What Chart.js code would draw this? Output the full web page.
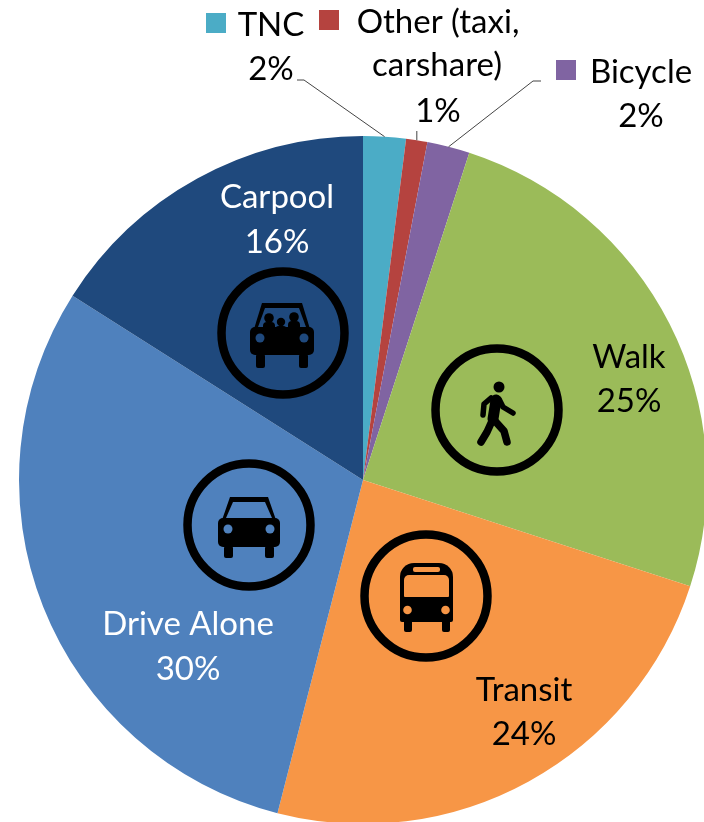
<!DOCTYPE html>
<html>
<head>
<meta charset="utf-8">
<title>Mode share</title>
<script src="https://cdn.jsdelivr.net/npm/chart.js@4"></script>
<style>
  html, body { margin:0; padding:0; background:#fff; }
  #wrap { width:704px; height:822px; overflow:hidden; position:relative; }
  canvas { display:block; }
</style>
</head>
<body>
<div id="wrap"><canvas id="modeChart" width="730" height="844"></canvas></div>
<script>
const categories = ['TNC', 'Other (taxi, carshare)', 'Bicycle', 'Walk', 'Transit', 'Drive Alone', 'Carpool'];
const shares     = [2, 1, 2, 25, 24, 30, 16];
const colors     = ['#4BACC6', '#B5433F', '#8064A2', '#9BBB59', '#F79646', '#4F81BD', '#1F497D'];

const FONT = '33px Lato, "Open Sans", sans-serif';

// name lines, percent line, centre x, first baseline, line height
const labels = [
  { i:3, name:['Walk'],        x:629, y:368, lh:44 },
  { i:4, name:['Transit'],     x:524, y:701, lh:44 },
  { i:5, name:['Drive Alone'], x:188, y:635, lh:45 },
  { i:6, name:['Carpool'],     x:277, y:208, lh:45 },
];

function drawLabels(ctx) {
  ctx.fillStyle = '#000';
  ctx.font = FONT;
  ctx.textBaseline = 'alphabetic';
  ctx.textAlign = 'center';
  labels.forEach(l => {
    const white = l.i === 5 || l.i === 6;
    ctx.fillStyle = white ? '#fff' : '#000';
    ctx.fillText(l.name[0], l.x, l.y);
    ctx.fillText(shares[l.i] + '%', l.x, l.y + l.lh);
  });

  // outside labels with their legend keys
  ctx.fillStyle = '#000';
  ctx.fillText('TNC', 271, 36);
  ctx.fillText(shares[0] + '%', 271, 80);
  ctx.fillText('Other (taxi,', 438, 33);
  ctx.fillText('carshare)', 437, 76);
  ctx.fillText(shares[1] + '%', 438, 122);
  ctx.fillText('Bicycle', 641, 83);
  ctx.fillText(shares[2] + '%', 641, 127);

  ctx.fillStyle = colors[0]; ctx.fillRect(206, 13, 20, 20);
  ctx.fillStyle = colors[1]; ctx.fillRect(319, 10, 20, 20);
  ctx.fillStyle = colors[2]; ctx.fillRect(556, 60, 20, 20);
}

function drawLeaders(ctx, arcs) {
  const edge = i => {
    const a = arcs[i];
    const mid = (a.startAngle + a.endAngle) / 2;
    return [a.x + Math.cos(mid) * a.outerRadius, a.y + Math.sin(mid) * a.outerRadius];
  };
  ctx.strokeStyle = '#444';
  ctx.lineWidth = 1;
  const line = pts => {
    ctx.beginPath();
    pts.forEach((p, n) => n ? ctx.lineTo(p[0], p[1]) : ctx.moveTo(p[0], p[1]));
    ctx.stroke();
  };
  line([edge(0), [304, 80], [297, 80]]);
  line([edge(1), [edge(1)[0], 131]]);
  line([edge(2), [533, 81], [541, 81]]);
}

function ring(ctx, x, y) {
  ctx.strokeStyle = '#000';
  ctx.lineWidth = 8.5;
  ctx.beginPath();
  ctx.arc(x, y, 61.5, 0, Math.PI * 2);
  ctx.stroke();
}

function box(ctx, x, y, w, h, r) {
  ctx.beginPath();
  ctx.roundRect(x, y, w, h, r);
  ctx.fill();
}

function dot(ctx, x, y, r) {
  ctx.beginPath();
  ctx.arc(x, y, r, 0, Math.PI * 2);
  ctx.fill();
}

// car front, x/y is the ring centre
function car(ctx, x, y, bg, roofTop, roofW, baseW, bodyTop, bodyBot, wheelBot) {
  ctx.fillStyle = '#000';
  ctx.beginPath();
  ctx.moveTo(x - roofW, y + roofTop);
  ctx.lineTo(x + roofW, y + roofTop);
  ctx.lineTo(x + roofW + 8, y + bodyTop + 2);
  ctx.lineTo(x - roofW - 8, y + bodyTop + 2);
  ctx.closePath();
  ctx.fill();
  box(ctx, x - baseW, y + bodyTop, baseW * 2, bodyBot - bodyTop, 5);
  box(ctx, x - baseW + 6, y + bodyBot - 1, 9, wheelBot - bodyBot + 1, 2);
  box(ctx, x + baseW - 15, y + bodyBot - 1, 9, wheelBot - bodyBot + 1, 2);
  ctx.fillStyle = bg;
  ctx.beginPath();
  ctx.moveTo(x - roofW + 3, y + roofTop + 5);
  ctx.lineTo(x + roofW - 3, y + roofTop + 5);
  ctx.lineTo(x + roofW + 4, y + bodyTop);
  ctx.lineTo(x - roofW - 4, y + bodyTop);
  ctx.closePath();
  ctx.fill();
  dot(ctx, x - baseW + 10, y + bodyTop + 11, 4.5);
  dot(ctx, x + baseW - 10, y + bodyTop + 11, 4.5);
}

function drawIcons(ctx) {
  // carpool
  ring(ctx, 283, 333);
  car(ctx, 282, 333, colors[6], -30, 20, 32, -6, 22, 35);
  ctx.fillStyle = '#000';
  [[269, 318, 4.8], [281, 322, 4.2], [294, 317, 4.8]].forEach(h => {
    dot(ctx, h[0], h[1], h[2]);
    box(ctx, h[0] - 6, h[1] + 4, 12, 10, 4);
  });

  // drive alone
  ring(ctx, 249, 525);
  car(ctx, 249, 525, colors[5], -28, 19, 31, -7, 22, 33);

  // transit
  ring(ctx, 426, 596);
  ctx.fillStyle = '#000';
  box(ctx, 400, 563, 53, 59, [14, 14, 2, 2]);
  box(ctx, 404, 620, 8, 12, 2);
  box(ctx, 442, 620, 8, 12, 2);
  ctx.fillStyle = colors[4];
  box(ctx, 404, 575, 45, 22, [5, 5, 1, 1]);
  box(ctx, 413, 567, 27, 5, 2);
  dot(ctx, 407.5, 610, 4.3);
  dot(ctx, 445.5, 610, 4.3);

  // walk
  ring(ctx, 497, 410);
  ctx.fillStyle = '#000';
  dot(ctx, 499, 387, 5.5);
  ctx.strokeStyle = '#000';
  ctx.lineCap = 'round';
  ctx.lineJoin = 'round';
  const limb = (w, pts) => {
    ctx.lineWidth = w;
    ctx.beginPath();
    pts.forEach((p, n) => n ? ctx.lineTo(p[0], p[1]) : ctx.moveTo(p[0], p[1]));
    ctx.stroke();
  };
  limb(11, [[496, 400], [493, 419]]);
  limb(7.5, [[492, 421], [487, 432], [481, 442]]);
  limb(7.5, [[495, 421], [504, 431], [507, 442]]);
  limb(5.5, [[491, 398], [484, 404], [483, 415]]);
  limb(5.5, [[499, 399], [503, 407], [513, 413]]);
  ctx.lineCap = 'butt';
}

const overlayPlugin = {
  id: 'overlay',
  afterDatasetsDraw(chart) {
    const ctx = chart.ctx;
    ctx.save();
    drawLeaders(ctx, chart.getDatasetMeta(0).data);
    drawIcons(ctx);
    drawLabels(ctx);
    ctx.restore();
  }
};

new Chart(document.getElementById('modeChart').getContext('2d'), {
  type: 'pie',
  data: {
    labels: categories,
    datasets: [{ data: shares, backgroundColor: colors, borderWidth: 0 }]
  },
  options: {
    responsive: false,
    animation: false,
    layout: { padding: { left: 19, top: 136, right: 23, bottom: 20 } },
    plugins: { legend: { display: false }, tooltip: { enabled: false } }
  },
  plugins: [overlayPlugin]
});
</script>
</body>
</html>
